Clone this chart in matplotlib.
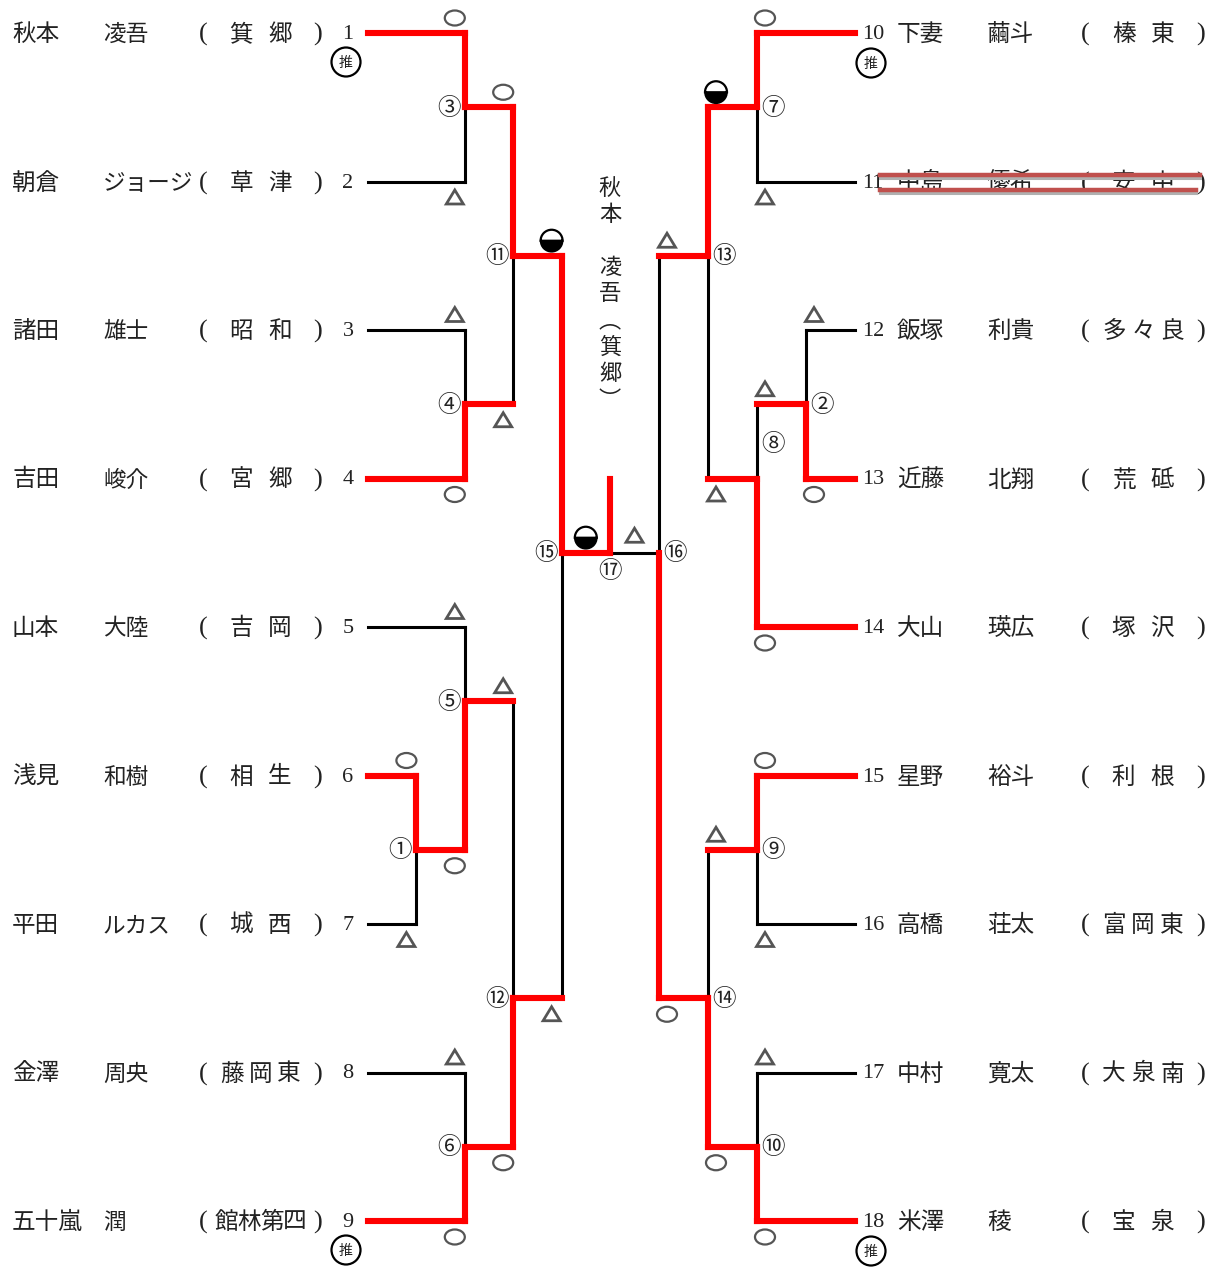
import matplotlib.pyplot as plt
from matplotlib.patches import Ellipse, Polygon, Wedge, Circle

plt.rcParams['font.family'] = ['Noto Sans CJK JP', 'DejaVu Sans']

# players, left block (1-9) and right block (10-18)
left_no = [1, 2, 3, 4, 5, 6, 7, 8, 9]
left_family = ['秋本', '朝倉', '諸田', '吉田', '山本', '浅見', '平田', '金澤', '五十嵐']
left_given = ['凌吾', 'ジョージ', '雄士', '峻介', '大陸', '和樹', 'ルカス', '周央', '潤']
left_school = ['箕郷', '草津', '昭和', '宮郷', '吉岡', '相生', '城西', '藤岡東', '館林第四']

right_no = [10, 11, 12, 13, 14, 15, 16, 17, 18]
right_family = ['下妻', '中島', '飯塚', '近藤', '大山', '星野', '高橋', '中村', '米澤']
right_given = ['繭斗', '優希', '利貴', '北翔', '瑛広', '裕斗', '荘太', '寛太', '稜']
right_school = ['榛東', '安中', '多々良', '荒砥', '塚沢', '利根', '富岡東', '大泉南', '宝泉']

seeded = [1, 9, 10, 18]      # 推
withdrawn = [11]

# matches: number, entrants (p = player, m = match), index of winner, winner's mark
match_no = [1, 3, 4, 5, 6, 11, 12, 15, 2, 7, 8, 9, 10, 13, 14, 16]
match_in = [('p6', 'p7'), ('p1', 'p2'), ('p3', 'p4'), ('p5', 'm1'), ('p8', 'p9'),
            ('m3', 'm4'), ('m5', 'm6'), ('m11', 'm12'),
            ('p12', 'p13'), ('p10', 'p11'), ('m2', 'p14'), ('p15', 'p16'), ('p17', 'p18'),
            ('m7', 'm8'), ('m9', 'm10'), ('m13', 'm14')]
match_win = [0, 0, 1, 1, 1, 0, 1, 0, 1, 0, 1, 0, 1, 0, 1, 1]
match_mark = ['o', 'o', 'o', 'o', 'o', 'o', 'o', 'h', 'o', 'o', 'o', 'o', 'o', 'h', 'o', 'o']
final_no = 17
final_in = ('m15', 'm16')
final_win = 0
final_mark = 'h'
champion = ['秋', '本', '', '凌', '吾', '︵', '箕', '郷', '︶']

# bracket layout (side, column from centre, output row slot)
match_side = ['L'] * 8 + ['R'] * 8
match_col = [4, 3, 3, 3, 3, 2, 2, 1, 4, 3, 3, 3, 3, 2, 2, 1]
match_slot = [5.5, 0.5, 2.5, 4.5, 7.5, 1.5, 6.5, 3.5, 2.5, 0.5, 3.0, 5.5, 7.5, 1.5, 6.5, 3.5]

W, H = 1218, 1269
ROW0, ROWH = 33, 148.5
CX = 610
STEP = {'L': -48.4, 'R': 49.0}
RED, BLK, TXT, GRY = '#ff0000', '#000000', '#222222', '#555555'
LW_R, LW_B = 4.4, 2.2
FS = 17
TY = 1.5   # text baseline nudge

fig = plt.figure(figsize=(W / 100, H / 100), dpi=100)
ax = fig.add_axes([0, 0, 1, 1])
ax.set_xlim(0, W)
ax.set_ylim(H, 0)
ax.axis('off')


def col_x(side, col):
    return CX + STEP[side] * col


def row_y(slot):
    return ROW0 + ROWH * slot


def entrant(e, side):
    k = int(e[1:])
    if e[0] == 'p':
        row = k - 1 if k <= 9 else k - 10
        return col_x(side, 5), row_y(row), True
    j = match_no.index(k)
    return col_x(match_side[j], match_col[j]), row_y(match_slot[j]), False


def seg(x0, y0, x1, y1, color):
    if color == RED:
        ax.plot([x0, x1], [y0, y1], color=RED, lw=LW_R, solid_capstyle='projecting', zorder=3)
    else:
        ax.plot([x0, x1], [y0, y1], color=BLK, lw=LW_B, solid_capstyle='projecting', zorder=2)


def mark(x, y, kind):
    if kind == 'o':
        ax.add_patch(Ellipse((x, y), 20, 15, fill=False, ec=GRY, lw=1.6, zorder=4))
    elif kind == 't':
        ax.add_patch(Polygon([(x - 8.5, y + 6.5), (x + 8.5, y + 6.5), (x, y - 7.5)], closed=True,
                             fill=False, ec=GRY, lw=2.0, joinstyle='miter', zorder=4))
    else:
        ax.add_patch(Wedge((x, y), 11, 0, 180, fc='black', ec='black', lw=1.2, zorder=4))
        ax.add_patch(Wedge((x, y), 11, 180, 360, fc='white', ec='black', lw=1.6, zorder=4))


def circled(n):
    return chr(0x2460 + n - 1)


# matches
for j, n in enumerate(match_no):
    side = match_side[j]
    x = col_x(side, match_col[j])
    yo = row_y(match_slot[j])
    pts = [entrant(e, side) for e in match_in[j]]
    ys = [p[1] for p in pts]
    for i, (xs, y, is_player) in enumerate(pts):
        won = i == match_win[j]
        seg(xs, y, x, y, RED if (won or not is_player) else BLK)
        seg(x, y, x, yo, RED if won else BLK)
        kind = match_mark[j] if won else 't'
        dx = -10 if side == 'L' else 8
        dy = -15 if y == min(ys) else 16
        mark(x + dx, y + dy, kind)
    lx = x - 16 if side == 'L' else x + 16
    ly = yo - 35 if n == 8 else yo
    ax.text(lx, ly + 1, circled(n), ha='center', va='center', fontsize=17, color=TXT, zorder=5)

# final
xa, ya, _ = entrant(final_in[0], 'L')
xb, yb, _ = entrant(final_in[1], 'R')
seg(xa, ya, CX, ya, RED if final_win == 0 else BLK)
seg(xb, yb, CX, yb, RED if final_win == 1 else BLK)
seg(CX, ya, CX, row_y(3.0), RED)
mark((xa + CX) / 2, ya - 15, final_mark if final_win == 0 else 't')
mark((xb + CX) / 2, yb - 17, final_mark if final_win == 1 else 't')
ax.text(CX, ya + 19, circled(final_no), ha='center', va='center', fontsize=17, color=TXT)

# champion, vertical
for i, ch in enumerate(champion):
    ax.text(CX, 188 + 26.5 * i, ch, ha='center', va='center', fontsize=16, color=TXT)


def school(y, name, x0, x1):
    ax.text(x0, y, '(', ha='center', va='center', fontsize=19, family='Liberation Serif', color=TXT)
    ax.text(x1, y, ')', ha='center', va='center', fontsize=19, family='Liberation Serif', color=TXT)
    step = (x1 - x0) / (len(name) + 1)
    for k, ch in enumerate(name):
        ax.text(x0 + step * (k + 1), y, ch, ha='center', va='center', fontsize=FS, color=TXT)


def seed(x, y):
    ax.add_patch(Circle((x, y), 14.5, fill=False, ec='black', lw=1.6, zorder=4))
    ax.text(x, y + 1, '推', ha='center', va='center', fontsize=10, color=TXT, zorder=5)


for i in range(9):
    y = row_y(i)
    ty = y + TY
    ax.text(12, ty, left_family[i], ha='left', va='center', fontsize=FS, color=TXT)
    ax.text(103, ty, left_given[i], ha='left', va='center', fontsize=16.3, color=TXT)
    school(ty, left_school[i], 203, 318)
    ax.text(348, ty, str(left_no[i]), ha='center', va='center', fontsize=16,
            family='Liberation Serif', color=TXT)
    if left_no[i] in seeded:
        seed(346, y + 29)

    ax.text(862, ty, str(right_no[i]), ha='left', va='center', fontsize=16,
            family='Liberation Serif', color=TXT)
    ax.text(897, ty, right_family[i], ha='left', va='center', fontsize=FS, color=TXT)
    ax.text(987, ty, right_given[i], ha='left', va='center', fontsize=FS, color=TXT)
    school(ty, right_school[i], 1085, 1201)
    if right_no[i] in seeded:
        seed(871, y + 30)
    if right_no[i] in withdrawn:
        for dy, x1 in [(-7, 1200), (8, 1196)]:
            ax.plot([880, x1], [y + dy + 3, y + dy + 3], color='#b0b0b0', lw=2.2, zorder=5)
            ax.plot([880, x1], [y + dy, y + dy], color='#c0504d', lw=3.2, zorder=6)

fig.savefig('out.png', dpi=100, facecolor='white')
